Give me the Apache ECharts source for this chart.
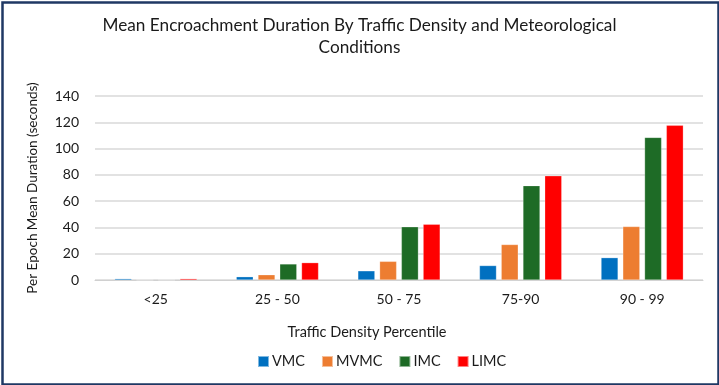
<!DOCTYPE html>
<html><head><meta charset="utf-8">
<script src="https://cdn.jsdelivr.net/npm/echarts@6/dist/echarts.min.js"></script>
<style>html,body{margin:0;padding:0;background:#fff}#c{width:719px;height:385px}</style>
</head><body><div id="c"></div>
<script>
const categories = ['<25', '25 - 50', '50 - 75', '75-90', '90 - 99'];
const vmc  = [1, 2.5, 7, 11, 17];
const mvmc = [0, 4, 14.2, 27, 40.7];
const imc  = [0, 12.2, 40.5, 71.8, 108.5];
const limc = [1, 13.2, 42.4, 79.3, 117.7];
const seriesNames = ['VMC', 'MVMC', 'IMC', 'LIMC'];
const colors = ['#0070C0', '#ED7D31', '#1E6B26', '#FF0000'];
const yTicks = {min: 0, max: 140, interval: 20};

const font = 'Lato';
const chart = echarts.init(document.getElementById('c'));
const data = [vmc, mvmc, imc, limc];
chart.setOption({
  animation: false,
  textStyle: {fontFamily: font},
  title: {
    text: 'Mean Encroachment Duration By Traffic Density and Meteorological\nConditions',
    left: 'center', top: 9,
    textStyle: {fontFamily: font, fontSize: 17.2, fontWeight: 'normal', color: '#1a1a1a', lineHeight: 22}
  },
  legend: {
    bottom: 11, left: 252,
    itemWidth: 11, itemHeight: 11, itemGap: 16,
    icon: 'rect',
    textStyle: {fontFamily: font, fontSize: 14.5, color: '#1a1a1a', padding: [0, 0, 0, -2]},
    data: seriesNames
  },
  grid: {left: 95, right: 16, top: 96, bottom: 105},
  xAxis: {
    type: 'category', data: categories,
    name: 'Traffic Density Percentile', nameLocation: 'middle', nameGap: 45,
    nameTextStyle: {fontFamily: font, fontSize: 14.5, color: '#1a1a1a', padding: [0, 64, 0, 0]},
    axisTick: {show: false},
    axisLine: {lineStyle: {color: '#d0d0d0', width: 1}},
    axisLabel: {fontFamily: font, fontSize: 14, color: '#1a1a1a', margin: 12}
  },
  yAxis: {
    type: 'value', min: yTicks.min, max: yTicks.max, interval: yTicks.interval,
    name: 'Per Epoch Mean Duration (seconds)', nameLocation: 'middle', nameGap: 55,
    nameTextStyle: {fontFamily: font, fontSize: 13.5, color: '#1a1a1a'},
    axisLabel: {fontFamily: font, fontSize: 14, color: '#1a1a1a', margin: 16},
    splitLine: {lineStyle: {color: '#d9d9d9', width: 1.5}},
    axisLine: {show: false}, axisTick: {show: false}
  },
  graphic: [{
    type: 'rect', left: 0, top: 0, z: 100,
    shape: {x: 1, y: 1, width: 716, height: 382},
    style: {fill: 'none', stroke: '#1F3864', lineWidth: 2.5}
  }],
  series: seriesNames.map((n, i) => ({
    name: n, type: 'bar', data: data[i],
    barWidth: 17, barGap: '28%',
    itemStyle: {color: colors[i], borderColor: 'rgba(255,255,255,0.5)', borderWidth: 0.5}
  }))
});
</script></body></html>
